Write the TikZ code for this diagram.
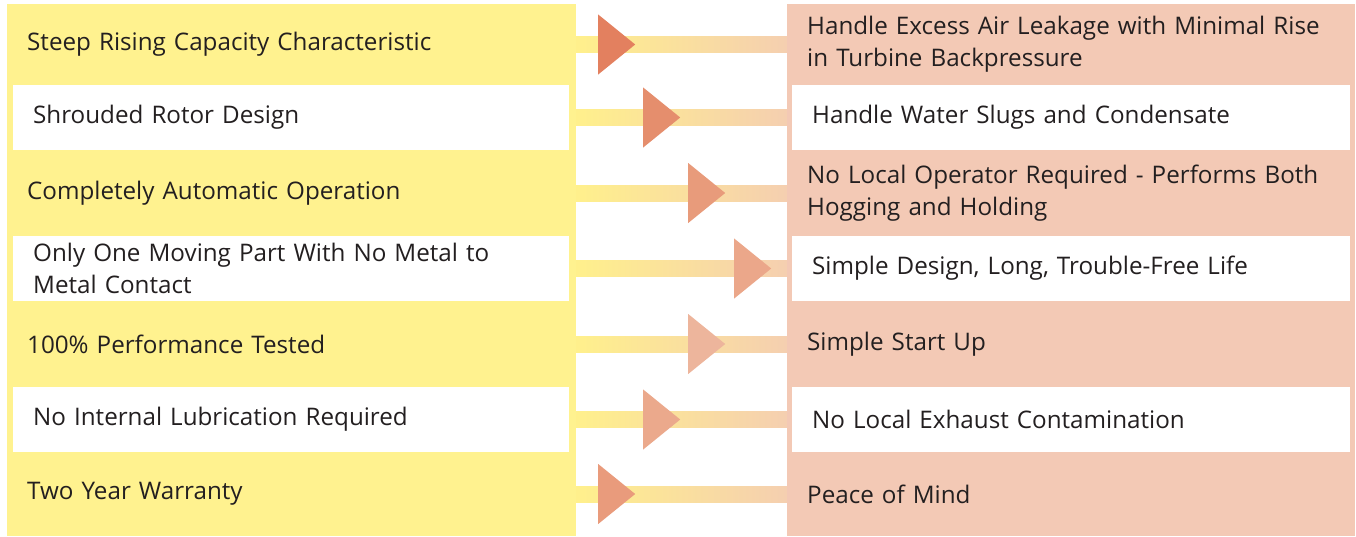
\documentclass[tikz,border=0pt]{standalone}
\usepackage{fontspec}
\setmainfont{Open Sans}
\usetikzlibrary{calc}

\definecolor{featyellow}{HTML}{FFF28F}
\definecolor{benefitpink}{HTML}{F3C9B5}
\definecolor{barleft}{HTML}{FFF08C}
\definecolor{barright}{HTML}{F5CFB0}
\definecolor{txtgray}{HTML}{231F20}
\definecolor{tri1}{HTML}{E3805F}
\definecolor{tri2}{HTML}{E58E6D}
\definecolor{tri3}{HTML}{E89B7B}
\definecolor{tri4}{HTML}{EBA78A}
\definecolor{tri5}{HTML}{EDB59C}
\definecolor{tri6}{HTML}{EBA98C}
\definecolor{tri7}{HTML}{E99B7C}

\tikzset{
  rowtext/.style={anchor=west, inner xsep=20pt, inner ysep=0pt, align=left,
    text=txtgray, font=\fontsize{24.2}{32}\selectfont},
  featrow/.style={rowtext, minimum height=#1, text width=529pt},
  featwhite/.style={rowtext, fill=white, minimum height=#1, text width=516pt},
  benefitrow/.style={rowtext, minimum height=#1, text width=528pt},
  benefitwhite/.style={rowtext, fill=white, minimum height=#1, text width=518pt},
}

\begin{document}
\begin{tikzpicture}[x=1pt,y=-1pt]
\useasboundingbox (0,0) rectangle (1356,536);

% column backgrounds
\node[fill=featyellow, minimum width=569pt, minimum height=532pt, inner sep=0pt] (leftcol) at (291.5,270) {};
\node[fill=benefitpink, minimum width=568pt, minimum height=532pt, inner sep=0pt] (rightcol) at (1071,270) {};

% features
\node[featrow=81pt] (f1) at (7,44.5) {Steep Rising Capacity Characteristic};
\node[featwhite=65pt] (f2) at (13,117.5) {Shrouded Rotor Design};
\node[featrow=86pt] (f3) at (7,193) {Completely Automatic Operation};
\node[featwhite=65pt] (f4) at (13,268.5) {Only One Moving Part With No Metal to\\Metal Contact};
\node[featrow=86pt] (f5) at (7,344) {100\% Performance Tested};
\node[featwhite=65pt] (f6) at (13,419.5) {No Internal Lubrication Required};
\node[featrow=84pt] (f7) at (7,494) {Two Year Warranty};

% benefits
\node[benefitrow=81pt] (b1) at (787,44.5) {Handle Excess Air Leakage with Minimal Rise\\in Turbine Backpressure};
\node[benefitwhite=65pt] (b2) at (792,117.5) {Handle Water Slugs and Condensate};
\node[benefitrow=86pt] (b3) at (787,193) {No Local Operator Required - Performs Both\\Hogging and Holding};
\node[benefitwhite=65pt] (b4) at (792,268.5) {Simple Design, Long, Trouble-Free Life};
\node[benefitrow=86pt] (b5) at (787,344) {Simple Start Up};
\node[benefitwhite=65pt] (b6) at (792,419.5) {No Local Exhaust Contamination};
\node[benefitrow=84pt] (b7) at (787,494) {Peace of Mind};

% connectors
\foreach \i/\tip in {1/22,2/67,3/112,4/158,5/112,6/67,7/22}{
  \coordinate (s\i) at (f\i.east -| leftcol.east);
  \coordinate (e\i) at (b\i.west -| rightcol.west);
  \fill[left color=barleft, right color=barright] ($(s\i)+(0,-8)$) rectangle ($(e\i)+(0,8)$);
  \fill[tri\i] ($(s\i)+(\tip,-30)$) -- ++(37,30) -- ++(-37,30) -- cycle;
}
\end{tikzpicture}
\end{document}
